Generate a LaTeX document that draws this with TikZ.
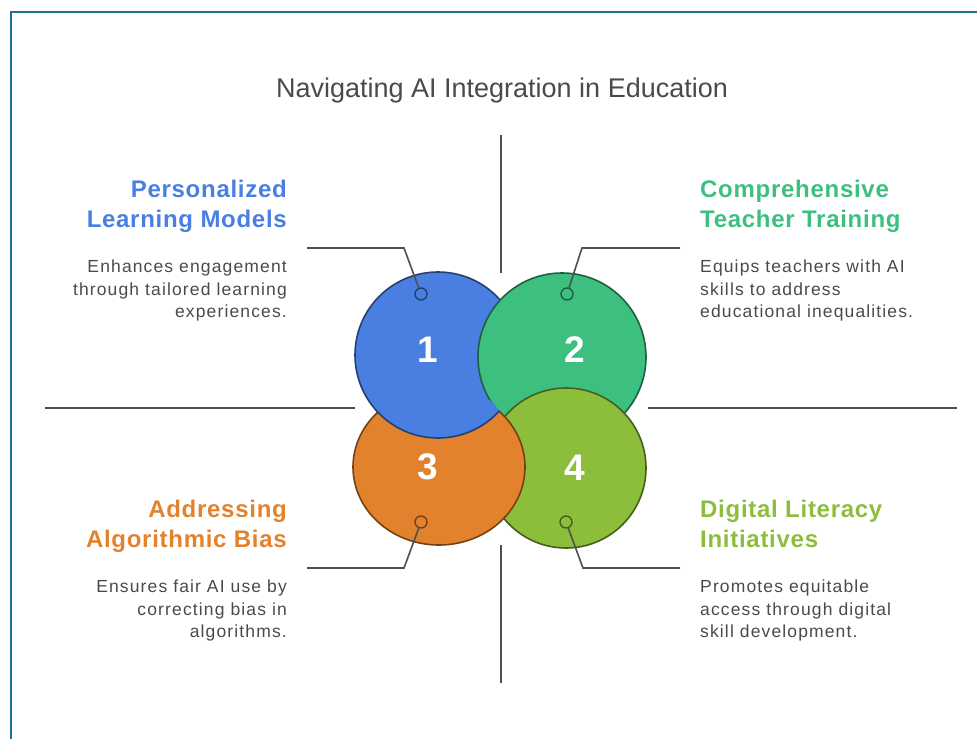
\documentclass[tikz,border=0pt]{standalone}
\usepackage{fontspec}
\setmainfont{Liberation Sans}
\newfontfamily\headface[LetterSpace=3]{Liberation Sans}
\newfontfamily\bodyface[LetterSpace=6.5]{Liberation Sans}
\usetikzlibrary{calc}

\definecolor{cblue}{HTML}{4A7FE2}
\definecolor{cgreen}{HTML}{3DC07F}
\definecolor{corange}{HTML}{E3822C}
\definecolor{colive}{HTML}{8DBE3B}
\definecolor{linegray}{HTML}{4F4F4F}
\definecolor{bodygray}{HTML}{4A4A4A}
\definecolor{framecol}{HTML}{1F6E9C}

\tikzset{
  blob/.style={draw=#1!50!black, line width=1.6pt, fill=#1},
  hub/.style={circle, draw=#1!50!black, line width=1.4pt, minimum size=12pt, inner sep=0pt},
  leader/.style={draw=linegray, line width=1.6pt},
  divider/.style={draw=linegray, line width=1.6pt},
  heading/.style={font=\headface\fontsize{24}{30}\selectfont\bfseries, inner sep=0pt},
  body/.style={font=\bodyface\fontsize{17.5}{22.5}\selectfont, text=bodygray, inner sep=0pt},
  num/.style={font=\fontsize{37}{37}\selectfont\bfseries, text=white, inner sep=0pt}
}

\begin{document}
\begin{tikzpicture}[x=1pt,y=-1pt]
  \useasboundingbox (0,0) rectangle (977,739);
  %%%%% FRAME %%%%%
  \draw[framecol, line width=1.5pt] (977,12) -- (11,12) -- (11,739);

  \node[font=\fontsize{27}{30}\selectfont, text=bodygray] (title) at (502,91) {Navigating AI Integration in Education};

  %%%%% DIVIDERS %%%%%
  \draw[divider] (501,135) -- (501,273);
  \draw[divider] (501,545) -- (501,683);
  \draw[divider] (45,408) -- (355,408);
  \draw[divider] (648,408) -- (957,408);

  %%%%% BLOBS %%%%%
  \draw[blob=cblue] (438,355) circle (83pt);
  \draw[blob=cgreen] (562,357) circle (84pt);
  \draw[blob=colive] (566,468) circle (80pt);
  \draw[blob=corange] (439,467) ellipse (86pt and 78pt);
  \begin{scope}
    \clip (340,385) -- (481,385) -- (500,412) -- (510,445) -- (340,445) -- cycle;
    \clip (439,467) ellipse (89pt and 81pt);
    \draw[blob=cblue] (438,355) circle (83pt);
  \end{scope}

  \node[num] (n1) at (428,350) {1};
  \node[num] (n2) at (575,350) {2};
  \node[num] (n3) at (428,467) {3};
  \node[num] (n4) at (575,468) {4};

  %%%%% LEADERS %%%%%
  \node[hub=cblue] (h1) at (421,294) {};
  \node[hub=cgreen] (h2) at (567,294) {};
  \node[hub=corange] (h3) at (421,522) {};
  \node[hub=colive] (h4) at (566,522) {};

  \coordinate (k1) at (404,248); \coordinate (e1) at (307,248);
  \coordinate (k2) at (582,248); \coordinate (e2) at (680,248);
  \coordinate (k3) at (404,568); \coordinate (e3) at (307,568);
  \coordinate (k4) at (583,568); \coordinate (e4) at (680,568);

  \draw[leader] (h1) -- (k1) -- (e1);
  \draw[leader] (h2) -- (k2) -- (e2);
  \draw[leader] (h3) -- (k3) -- (e3);
  \draw[leader] (h4) -- (k4) -- (e4);

  %%%%% TEXTS %%%%%
  \node[heading, text=cblue, anchor=north east, align=right] (t1) at (287,180) {Personalized\\Learning Models};
  \node[body, anchor=north east, align=right] (d1) at (287,260) {Enhances engagement\\through tailored learning\\experiences.};

  \node[heading, text=cgreen, anchor=north west, align=left] (t2) at (700,180) {Comprehensive\\Teacher Training};
  \node[body, anchor=north west, align=left] (d2) at (700,260) {Equips teachers with AI\\skills to address\\educational inequalities.};

  \node[heading, text=corange, anchor=north east, align=right] (t3) at (287,500) {Addressing\\Algorithmic Bias};
  \node[body, anchor=north east, align=right] (d3) at (287,580) {Ensures fair AI use by\\correcting bias in\\algorithms.};

  \node[heading, text=colive, anchor=north west, align=left] (t4) at (700,500) {Digital Literacy\\Initiatives};
  \node[body, anchor=north west, align=left] (d4) at (700,580) {Promotes equitable\\access through digital\\skill development.};
\end{tikzpicture}
\end{document}
